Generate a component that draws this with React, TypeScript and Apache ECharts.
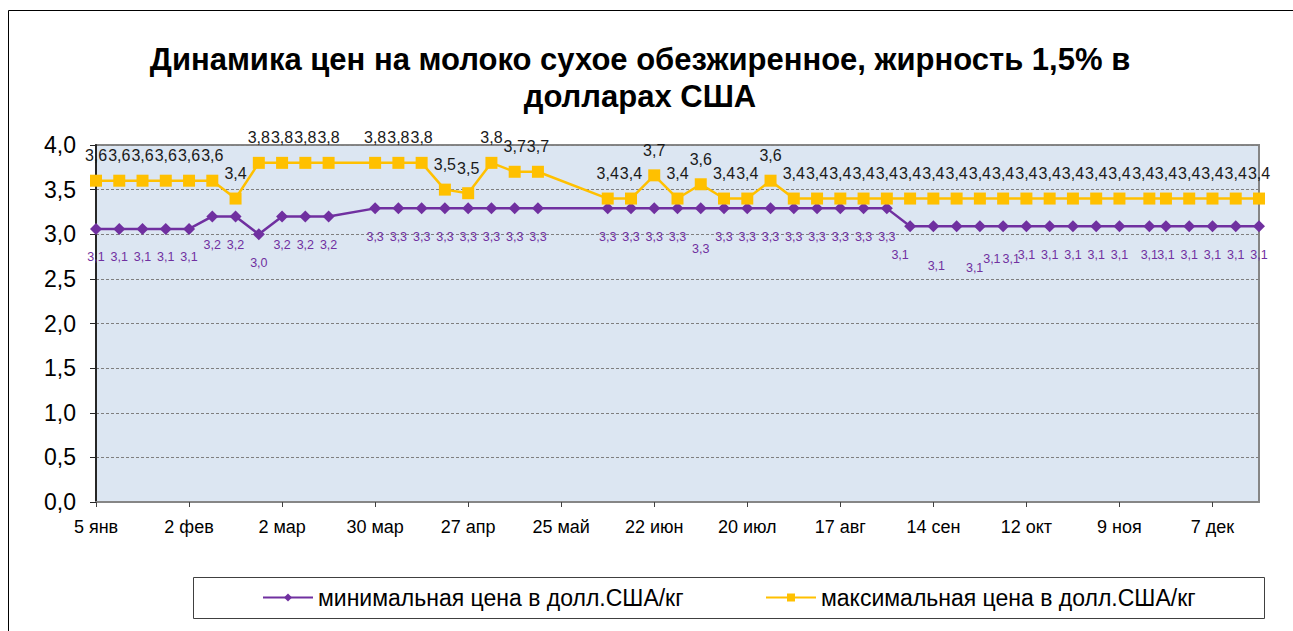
import React, { useEffect, useRef } from "react";
import * as echarts from "echarts";

const titleLines = [
  "Динамика цен на молоко сухое обезжиренное, жирность 1,5% в",
  "долларах США",
];

const seriesNames = [
  "минимальная цена в долл.США/кг",
  "максимальная цена в долл.США/кг",
];

const monthNames = ["янв", "фев", "мар", "апр", "май", "июн", "июл", "авг", "сен", "окт", "ноя", "дек"];

const dates = [
  "2009-01-05", "2009-01-12", "2009-01-19", "2009-01-26", "2009-02-02", "2009-02-09",
  "2009-02-16", "2009-02-23", "2009-03-02", "2009-03-09", "2009-03-16", "2009-03-30",
  "2009-04-06", "2009-04-13", "2009-04-20", "2009-04-27", "2009-05-04", "2009-05-11",
  "2009-05-18", "2009-06-08", "2009-06-15", "2009-06-22", "2009-06-29", "2009-07-06",
  "2009-07-13", "2009-07-20", "2009-07-27", "2009-08-03", "2009-08-10", "2009-08-17",
  "2009-08-24", "2009-08-31", "2009-09-07", "2009-09-14", "2009-09-21", "2009-09-28",
  "2009-10-05", "2009-10-12", "2009-10-19", "2009-10-26", "2009-11-02", "2009-11-09",
  "2009-11-18", "2009-11-23", "2009-11-30", "2009-12-07", "2009-12-14", "2009-12-21",
];

const minPrice = [
  3.06, 3.06, 3.06, 3.06, 3.06, 3.2,
  3.2, 3.0, 3.2, 3.2, 3.2, 3.29,
  3.29, 3.29, 3.29, 3.29, 3.29, 3.29,
  3.29, 3.29, 3.29, 3.29, 3.29, 3.29,
  3.29, 3.29, 3.29, 3.29, 3.29, 3.29,
  3.29, 3.29, 3.09, 3.09, 3.09, 3.09,
  3.09, 3.09, 3.09, 3.09, 3.09, 3.09,
  3.09, 3.09, 3.09, 3.09, 3.09, 3.09,
];

const maxPrice = [
  3.6, 3.6, 3.6, 3.6, 3.6, 3.6,
  3.4, 3.8, 3.8, 3.8, 3.8, 3.8,
  3.8, 3.8, 3.5, 3.46, 3.8, 3.7,
  3.7, 3.4, 3.4, 3.66, 3.4, 3.56,
  3.4, 3.4, 3.6, 3.4, 3.4, 3.4,
  3.4, 3.4, 3.4, 3.4, 3.4, 3.4,
  3.4, 3.4, 3.4, 3.4, 3.4, 3.4,
  3.4, 3.4, 3.4, 3.4, 3.4, 3.4,
];

// label nudges (style only), keyed by date
const minLabelNudge: Record<string, [number, number]> = {
  "2009-07-06": [0, 12],
  "2009-09-07": [-10, 0],
  "2009-09-14": [3, 11],
  "2009-09-21": [18, 13],
  "2009-09-28": [12, 4],
  "2009-10-05": [8, 4],
};
const maxLabelNudge: Record<string, [number, number]> = {
  "2009-11-18": [-6, 0],
};

const START = Date.UTC(2009, 0, 5);
const DAY = 86400000;
const dayOffset = (s: string) => {
  const [y, m, d] = s.split("-").map(Number);
  return Math.round((Date.UTC(y, m - 1, d) - START) / DAY);
};
const fmt1 = (v: number) => (Math.round(v * 10) / 10).toFixed(1).replace(".", ",");

const FONT = "'Liberation Sans', Arial, sans-serif";

export default function App() {
  const ref = useRef<HTMLDivElement>(null);
  useEffect(() => {
    document.body.style.margin = "0";
    const chart = echarts.init(ref.current!, null, { renderer: "svg" });
    const minData = dates.map((d, i) => {
      const item: any = { value: [dayOffset(d), minPrice[i]] };
      if (minLabelNudge[d]) item.label = { offset: minLabelNudge[d] };
      return item;
    });
    const maxData = dates.map((d, i) => {
      const item: any = { value: [dayOffset(d), maxPrice[i]] };
      if (maxLabelNudge[d]) item.label = { offset: maxLabelNudge[d] };
      return item;
    });
    const titleStyle = {
      align: "center",
      verticalAlign: "middle",
      fontSize: 31,
      fontWeight: "bold",
      fontFamily: FONT,
      fill: "#000",
    };
    chart.setOption({
      animation: false,
      backgroundColor: "#ffffff",
      textStyle: { fontFamily: FONT },
      graphic: [
        {
          type: "rect",
          shape: { x: 8.5, y: 10.5, width: 1400, height: 800 },
          style: { fill: "none", stroke: "#000", lineWidth: 1 },
          silent: true,
        },
        { type: "text", x: 640, y: 59, style: { ...titleStyle, text: titleLines[0] } },
        { type: "text", x: 640, y: 96, style: { ...titleStyle, text: titleLines[1] } },
        {
          type: "rect",
          shape: { x: 193.5, y: 577.5, width: 1071, height: 41 },
          style: { fill: "none", stroke: "#404040", lineWidth: 1 },
          silent: true,
        },
      ],
      grid: {
        left: 96,
        top: 145,
        right: 34,
        bottom: 129,
        show: true,
        backgroundColor: "#dce6f2",
        borderColor: "#868686",
        borderWidth: 2,
      },
      xAxis: {
        type: "value",
        min: 0,
        max: 350,
        interval: 28,
        axisLine: { show: true, lineStyle: { color: "#868686", width: 2 } },
        axisTick: { show: true, inside: false, length: 5, lineStyle: { color: "#404040" } },
        splitLine: { show: false },
        axisLabel: {
          color: "#000",
          fontSize: 18,
          fontFamily: FONT,
          margin: 16,
          showMaxLabel: false,
          formatter: (v: number) => {
            if (v % 28 !== 0) return "";
            const dt = new Date(START + v * DAY);
            return `${dt.getUTCDate()} ${monthNames[dt.getUTCMonth()]}`;
          },
        },
      },
      yAxis: {
        type: "value",
        min: 0,
        max: 4,
        interval: 0.5,
        axisLine: { show: true, lineStyle: { color: "#262626", width: 2 } },
        axisTick: { show: true, inside: false, length: 6, lineStyle: { color: "#262626" } },
        splitLine: { show: true, lineStyle: { color: "#7f7f7f", type: [3, 2], width: 1 } },
        axisLabel: {
          color: "#000",
          fontSize: 23,
          fontFamily: FONT,
          margin: 20,
          formatter: (v: number) => v.toFixed(1).replace(".", ","),
        },
      },
      legend: [
        {
          data: [seriesNames[0]],
          left: 262,
          top: 586,
          itemWidth: 50,
          itemHeight: 10,
          itemGap: 0,
          padding: 0,
          textStyle: { fontSize: 23, color: "#000", fontFamily: FONT },
        },
        {
          data: [seriesNames[1]],
          left: 765,
          top: 586,
          itemWidth: 50,
          itemHeight: 10,
          itemGap: 0,
          padding: 0,
          textStyle: { fontSize: 23, color: "#000", fontFamily: FONT },
        },
      ],
      series: [
        {
          name: seriesNames[0],
          type: "line",
          data: minData,
          symbol: "diamond",
          symbolSize: 12,
          lineStyle: { color: "#7030a0", width: 2.5 },
          itemStyle: { color: "#7030a0" },
          label: {
            show: true,
            position: "bottom",
            distance: 16,
            color: "#7030a0",
            fontSize: 12.5,
            fontFamily: FONT,
            formatter: (p: any) => fmt1(p.value[1]),
          },
        },
        {
          name: seriesNames[1],
          type: "line",
          data: maxData,
          symbol: "rect",
          symbolSize: 12,
          lineStyle: { color: "#ffc000", width: 2.5 },
          itemStyle: { color: "#ffc000" },
          label: {
            show: true,
            position: "top",
            distance: 11,
            color: "#1a1a1a",
            fontSize: 16,
            fontFamily: FONT,
            formatter: (p: any) => fmt1(p.value[1]),
          },
        },
      ],
    });
    return () => chart.dispose();
  }, []);
  return <div ref={ref} style={{ width: 1293, height: 631 }} />;
}
